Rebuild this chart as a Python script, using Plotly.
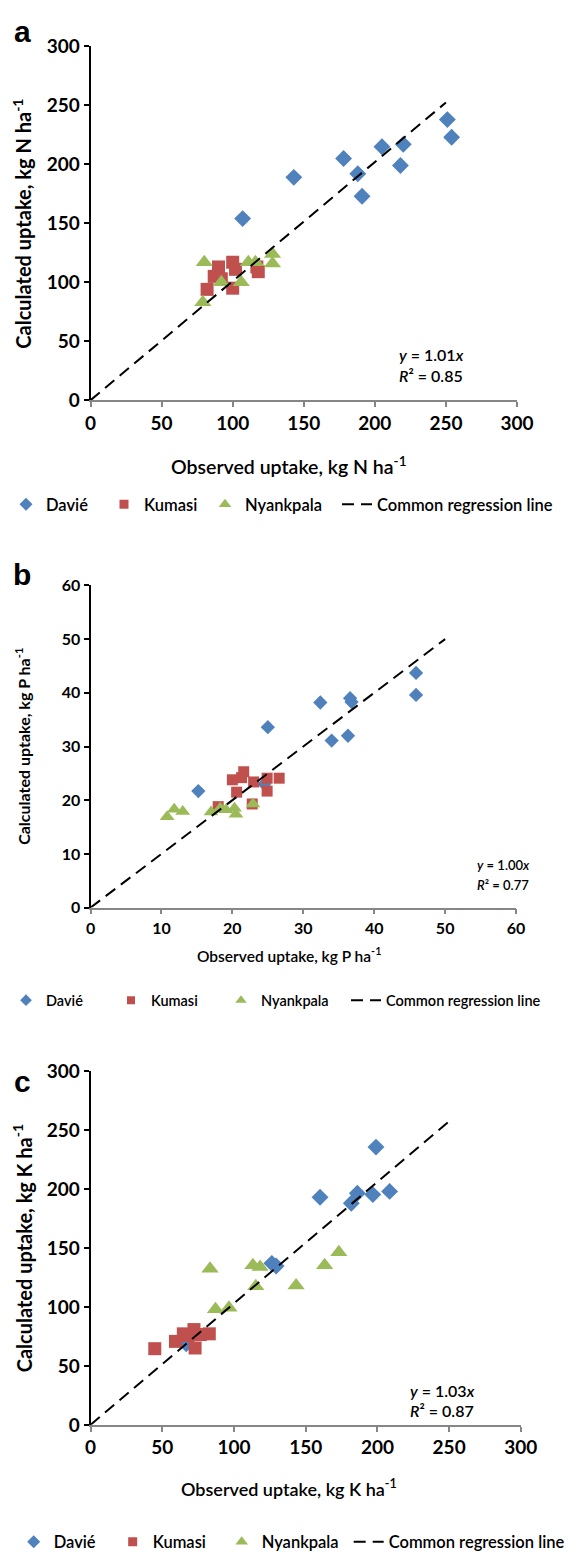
import plotly.graph_objects as go

W, H = 583, 1560
FONT = "Lato"

# ---------------- data ----------------
# Panel a: N uptake
a_davie_x = [107, 143, 178, 188, 191, 205, 220, 218, 251, 254]
a_davie_y = [154, 189, 205, 192, 173, 215, 217, 199, 238, 223]
a_kumasi_x = [82, 87, 90, 92, 100, 102, 100, 117, 118]
a_kumasi_y = [94, 105, 113, 103, 117, 111, 95, 113, 109]
a_nyank_x = [80, 79, 92, 106, 111, 116, 128, 128]
a_nyank_y = [117, 83, 100, 100, 117, 117, 124, 116]

# Panel b: P uptake
b_davie_x = [24.5, 15.2, 25.0, 32.4, 34.0, 36.3, 36.6, 36.8, 45.9, 45.9]
b_davie_y = [23.0, 21.7, 33.6, 38.2, 31.1, 32.0, 39.0, 38.3, 43.7, 39.6]
b_kumasi_x = [18.0, 20.0, 20.6, 21.3, 21.6, 23.0, 22.8, 24.9, 24.9, 26.6]
b_kumasi_y = [18.8, 23.8, 21.5, 24.2, 25.3, 23.4, 19.3, 24.1, 21.7, 24.1]
b_nyank_x = [10.8, 11.8, 13.0, 17.0, 18.3, 19.1, 20.3, 20.5, 22.9]
b_nyank_y = [16.9, 18.3, 17.9, 17.8, 18.5, 18.2, 18.5, 17.4, 19.3]

# Panel c: K uptake
c_davie_x = [66.7, 126.4, 129.4, 160.0, 181.8, 186.0, 196.8, 199.0, 208.5]
c_davie_y = [68.8, 137.0, 134.7, 193.0, 188.0, 196.4, 195.3, 235.6, 198.0]
c_kumasi_x = [44.8, 59.2, 64.7, 67.9, 72.1, 72.9, 76.6, 82.8]
c_kumasi_y = [64.6, 70.8, 77.2, 75.8, 80.8, 65.2, 76.6, 77.2]
c_nyank_x = [83.3, 87.1, 96.5, 113.2, 115.2, 118.2, 143.3, 163.2, 173.1]
c_nyank_y = [132.5, 98.0, 99.4, 135.3, 117.5, 133.9, 118.1, 135.3, 146.4]

reg_slopes = [1.01, 1.00, 1.03]
reg_xmax = [250, 50, 250]
r2_values = [0.85, 0.77, 0.87]
nutrients = ["N", "P", "K"]
panel_letters = ["a", "b", "c"]
axis_max = [300, 60, 300]
axis_step = [50, 10, 50]
series_names = ["Davié", "Kumasi", "Nyankpala"]
line_name = "Common regression line"

data = [
    [(a_davie_x, a_davie_y), (a_kumasi_x, a_kumasi_y), (a_nyank_x, a_nyank_y)],
    [(b_davie_x, b_davie_y), (b_kumasi_x, b_kumasi_y), (b_nyank_x, b_nyank_y)],
    [(c_davie_x, c_davie_y), (c_kumasi_x, c_kumasi_y), (c_nyank_x, c_nyank_y)],
]

# ---------------- styling / layout (pixels) ----------------
colors = ["#4F81BD", "#C0504D", "#9BBB59"]
symbols = ["diamond", "square", "triangle-up"]
marker_sizes = [[13, 13, 15], [11, 11, 13], [13, 13, 15]]
legend_marker_sizes = [10, 9, 11]
# plot area boxes: left, right, top, bottom in px
boxes = [(88, 532, 35, 394), (88, 531, 582, 909), (88, 536, 1075, 1434)]
tick_font = [19, 16, 19]
ytitle_font = [20, 16, 20]
xtitle_font = [19.5, 15.5, 18]
xtitle_y = [460, 957, 1498]
legend_font = [16.5, 14.5, 16.5]
legend_y = [500, 1003, 1553]
legend_x = [0, 0, 8]
legend_widths = [[53, 56, 87, 0], [60, 65, 80, 0], [54, 64, 82, 0]]
ann_font = [16, 13, 16]
ann_x = [407, 488, 418]
ann_y = [(348, 369), (866, 886), (1399, 1419)]
letter_y = [20, 571, 1085]


def px(x):
    return x / W


def py(y):
    return 1 - y / H


fig = go.Figure()
layout = dict(
    width=W, height=H, margin=dict(l=0, r=0, t=0, b=0),
    paper_bgcolor="white", plot_bgcolor="white",
    font=dict(family=FONT, color="black"),
    annotations=[],
)

for i in range(3):
    sfx = "" if i == 0 else str(i + 1)
    xa, ya = "x" + sfx, "y" + sfx
    leg = "legend" + sfx
    l, r, t, b = boxes[i]
    for j, (xs, ys) in enumerate(data[i]):
        fig.add_trace(go.Scatter(
            x=xs, y=ys, mode="markers", name=series_names[j],
            xaxis=xa, yaxis=ya, showlegend=False, cliponaxis=False,
            marker=dict(symbol=symbols[j], color=colors[j], size=marker_sizes[i][j],
                        line=dict(width=0)),
        ))
    fig.add_trace(go.Scatter(
        x=[0, reg_xmax[i]], y=[0, reg_slopes[i] * reg_xmax[i]], mode="lines",
        name=line_name, xaxis=xa, yaxis=ya, showlegend=False,
        line=dict(color="black", width=2, dash="12px,7px"),
    ))
    # legend entries (smaller symbols as in the original legend)
    for j in range(3):
        fig.add_trace(go.Scatter(
            x=[None], y=[None], mode="markers", name=series_names[j],
            xaxis=xa, yaxis=ya, legend=leg, legendwidth=legend_widths[i][j],
            marker=dict(symbol=symbols[j], color=colors[j],
                        size=legend_marker_sizes[j] + (0 if i != 1 else -1),
                        line=dict(width=0)),
        ))
    fig.add_trace(go.Scatter(
        x=[None], y=[None], mode="lines", name=line_name,
        xaxis=xa, yaxis=ya, legend=leg,
        line=dict(color="black", width=2, dash="12px,7px"),
    ))

    nut = nutrients[i]
    layout["xaxis" + sfx] = dict(
        domain=[px(l), px(r)], anchor=ya, range=[0, axis_max[i]], dtick=axis_step[i],
        showgrid=False, zeroline=False, showline=True, linecolor="#868686", linewidth=1.5,
        ticks="outside", ticklen=5, tickcolor="#868686", tickwidth=1.5,
        tickfont=dict(size=tick_font[i], family=FONT, weight=700), fixedrange=True,
    )
    layout["yaxis" + sfx] = dict(
        domain=[py(b), py(t)], anchor=xa, range=[0, axis_max[i]], dtick=axis_step[i],
        showgrid=False, zeroline=False, showline=True, linecolor="black", linewidth=2,
        ticks="outside", ticklen=5, tickcolor="black", tickwidth=1.5,
        tickfont=dict(size=tick_font[i], family=FONT, weight=700), fixedrange=True,
    )
    layout[leg] = dict(
        orientation="h", x=px(legend_x[i]), xanchor="left", y=py(legend_y[i]),
        yanchor="middle", font=dict(size=legend_font[i], family=FONT, weight=600),
        bgcolor="rgba(0,0,0,0)", itemsizing="trace", tracegroupgap=0,
    )
    # y-axis title
    layout["annotations"].append(dict(
        text=f"Calculated uptake, kg {nut} ha<sup>-1</sup>", textangle=-90,
        xref="paper", yref="paper", x=px(17), y=py((t + b) / 2),
        xanchor="center", yanchor="middle", showarrow=False,
        font=dict(size=ytitle_font[i], family=FONT, weight=700),
    ))
    # x-axis title
    layout["annotations"].append(dict(
        text=f"Observed uptake, kg {nut} ha<sup>-1</sup>",
        xref="paper", yref="paper", x=px(295), y=py(xtitle_y[i]),
        xanchor="center", yanchor="middle", showarrow=False,
        font=dict(size=xtitle_font[i], family=FONT, weight=600),
    ))
    # regression equation
    layout["annotations"].append(dict(
        text=f"<i>y</i> = {reg_slopes[i]:.2f}<i>x</i>",
        xref="paper", yref="paper", x=px(ann_x[i]), y=py(ann_y[i][0]),
        xanchor="left", yanchor="middle", showarrow=False,
        font=dict(size=ann_font[i], family=FONT, weight=600),
    ))
    layout["annotations"].append(dict(
        text=f"<i>R</i>² = {r2_values[i]:.2f}",
        xref="paper", yref="paper", x=px(ann_x[i]), y=py(ann_y[i][1]),
        xanchor="left", yanchor="middle", showarrow=False,
        font=dict(size=ann_font[i], family=FONT, weight=600),
    ))
    # panel letter
    layout["annotations"].append(dict(
        text=panel_letters[i], xref="paper", yref="paper", x=px(17), y=py(letter_y[i]),
        xanchor="center", yanchor="middle", showarrow=False,
        font=dict(size=30, family="Liberation Sans", weight=700),
    ))

fig.update_layout(**layout)
fig.write_html("out.html")
